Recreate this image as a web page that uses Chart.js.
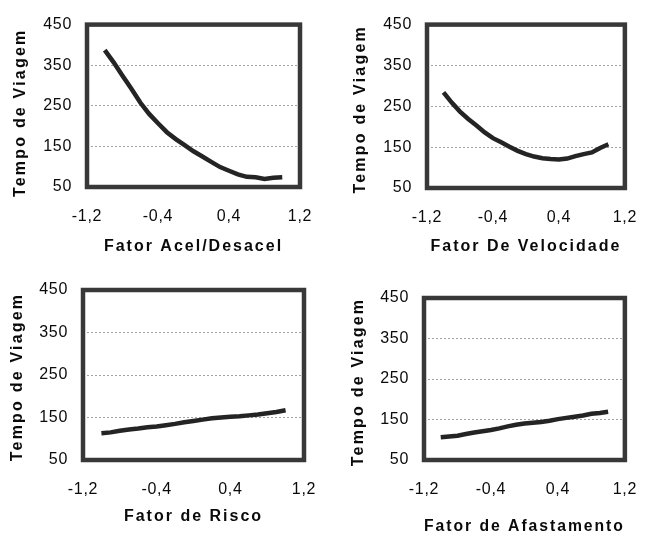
<!DOCTYPE html>
<html>
<head>
<meta charset="utf-8">
<script src="https://cdn.jsdelivr.net/npm/chart.js@4/dist/chart.umd.min.js"></script>
<style>
  html, body { margin: 0; padding: 0; background: #ffffff; }
  #wrap { position: relative; width: 656px; height: 535px; overflow: hidden; }
  #wrap canvas { position: absolute; left: 0; top: 0; }
</style>
</head>
<body>
<div id="wrap">
  <canvas id="c1" width="656" height="535"></canvas>
  <canvas id="c2" width="656" height="535"></canvas>
  <canvas id="c3" width="656" height="535"></canvas>
  <canvas id="c4" width="656" height="535"></canvas>
</div>
<script>
// ---- data ----
const xValues = [-1.0, -0.9, -0.8, -0.7, -0.6, -0.5, -0.4, -0.3, -0.2, -0.1, 0.0,
                 0.1, 0.2, 0.3, 0.4, 0.5, 0.6, 0.7, 0.8, 0.9, 1.0];
const acelDesacel = [387, 357, 324, 292, 258, 230, 207, 185, 168, 153, 138,
                     125, 112, 99, 90, 81, 75, 74, 70, 73, 74];
const velocidade  = [284, 259, 237, 219, 203, 186, 172, 162, 151, 141, 133,
                     127, 123, 121, 120, 122, 128, 133, 137, 148, 157];
const risco       = [113, 115, 119, 122, 124, 127, 129, 132, 135, 139, 142,
                     145, 148, 150, 152, 153, 155, 157, 160, 163, 167];
const afastamento = [106, 108, 110, 114, 118, 121, 124, 128, 133, 137, 140,
                     142, 144, 147, 151, 154, 157, 160, 164, 166, 169];
const xTicks = [-1.2, -0.4, 0.4, 1.2];
const yTicks = [50, 150, 250, 350, 450];
const yTitle = 'Tempo de Viagem';
const xTitles = ['Fator Acel/Desacel', 'Fator De Velocidade', 'Fator de Risco', 'Fator de Afastamento'];
const seriesList = [acelDesacel, velocidade, risco, afastamento];

// ---- layout of each panel (plot frame and title centres) ----
const panels = [
  { id: 'c1', L: 87,  T: 18,  R: 300, B: 187, yTitleX: 21,  xTitleY: 247, yTitleShift: 7 },
  { id: 'c2', L: 427, T: 20,  R: 640, B: 188, yTitleX: 361, xTitleY: 247, yTitleShift: 3 },
  { id: 'c3', L: 83,  T: 290, R: 304, B: 460, yTitleX: 18,  xTitleY: 517, yTitleShift: 2 },
  { id: 'c4', L: 424, T: 298, R: 639, B: 460, yTitleX: 359, xTitleY: 527, yTitleShift: 3 }
];

const W = 656, H = 535;
const FONT = "'Liberation Sans', Arial, Helvetica, sans-serif";
const TITLE_SIZE = 16, TICK_SIZE = 16;
const TITLE_LH = TITLE_SIZE * 1.2;
const TEXT = '#0a0a0a';
const FRAME = '#383838';
const LINE = '#242424';
const GRID = '#a2a2a2';

const spacingPlugin = {
  id: 'spacing',
  beforeDraw(chart) {
    chart.ctx.letterSpacing = '0.7px';
    const shift = chart.options.plugins.spacing.yShift || 0;
    Object.values(chart.scales).forEach(s => {
      if (!s._wrappedTitle) {
        const orig = s.drawTitle.bind(s);
        const isY = s.axis === 'y';
        s.drawTitle = function () {
          const c = this.ctx;
          c.save();
          c.letterSpacing = isY ? '2.2px' : '2.0px';
          if (isY) c.translate(0, shift);
          orig();
          c.restore();
        };
        s._wrappedTitle = true;
      }
    });
  }
};

const framePlugin = {
  id: 'frame',
  afterDatasetsDraw(chart) {
    const a = chart.chartArea, ctx = chart.ctx;
    ctx.save();
    ctx.strokeStyle = FRAME;
    ctx.lineWidth = 4.5;
    ctx.setLineDash([]);
    ctx.strokeRect(a.left, a.top, a.right - a.left, a.bottom - a.top);
    ctx.restore();
  }
};

const fmt = v => (Math.round(v * 10) / 10).toFixed(1).replace('.', ',');

panels.forEach((p, i) => {
  const scaleLeft = p.yTitleX - TITLE_LH / 2;
  const yW = p.L - scaleLeft;
  const scaleBottom = p.xTitleY + TITLE_LH / 2;
  const xH = scaleBottom - p.B;
  const points = xValues.map((x, k) => ({ x: x, y: seriesList[i][k] }));

  new Chart(document.getElementById(p.id), {
    type: 'line',
    data: {
      datasets: [{
        data: points,
        borderColor: LINE,
        borderWidth: 4.5,
        pointRadius: 0,
        tension: 0,
        fill: false
      }]
    },
    options: {
      responsive: false,
      animation: false,
      events: [],
      layout: {
        padding: { left: scaleLeft, top: p.T, right: W - p.R, bottom: H - scaleBottom }
      },
      plugins: {
        legend: { display: false },
        tooltip: { enabled: false },
        spacing: { yShift: p.yTitleShift }
      },
      scales: {
        x: {
          type: 'linear',
          min: xTicks[0],
          max: xTicks[xTicks.length - 1],
          afterFit: s => { s.height = xH; },
          afterBuildTicks: s => { s.ticks = xTicks.map(v => ({ value: v })); },
          grid: { display: false, drawTicks: false },
          border: { display: false },
          ticks: {
            padding: 20,
            maxRotation: 0,
            autoSkip: false,
            color: TEXT,
            font: { family: FONT, size: TICK_SIZE },
            callback: v => fmt(v)
          },
          title: {
            display: true,
            text: xTitles[i],
            color: TEXT,
            padding: 0,
            font: { family: FONT, size: TITLE_SIZE, weight: 'bold' }
          }
        },
        y: {
          type: 'linear',
          min: yTicks[0],
          max: yTicks[yTicks.length - 1],
          afterFit: s => { s.width = yW; },
          afterBuildTicks: s => { s.ticks = yTicks.map(v => ({ value: v })); },
          grid: {
            drawTicks: false,
            lineWidth: 1,
            color: c => (c.tick && (c.tick.value === yTicks[0] || c.tick.value === yTicks[yTicks.length - 1])) ? 'rgba(0,0,0,0)' : GRID
          },
          border: { display: false, dash: [2, 2] },
          ticks: {
            padding: 15,
            color: TEXT,
            font: { family: FONT, size: TICK_SIZE },
            callback: v => String(v)
          },
          title: {
            display: true,
            text: yTitle,
            color: TEXT,
            padding: 0,
            font: { family: FONT, size: TITLE_SIZE, weight: 'bold' }
          }
        }
      }
    },
    plugins: [spacingPlugin, framePlugin]
  });
});
</script>
</body>
</html>
